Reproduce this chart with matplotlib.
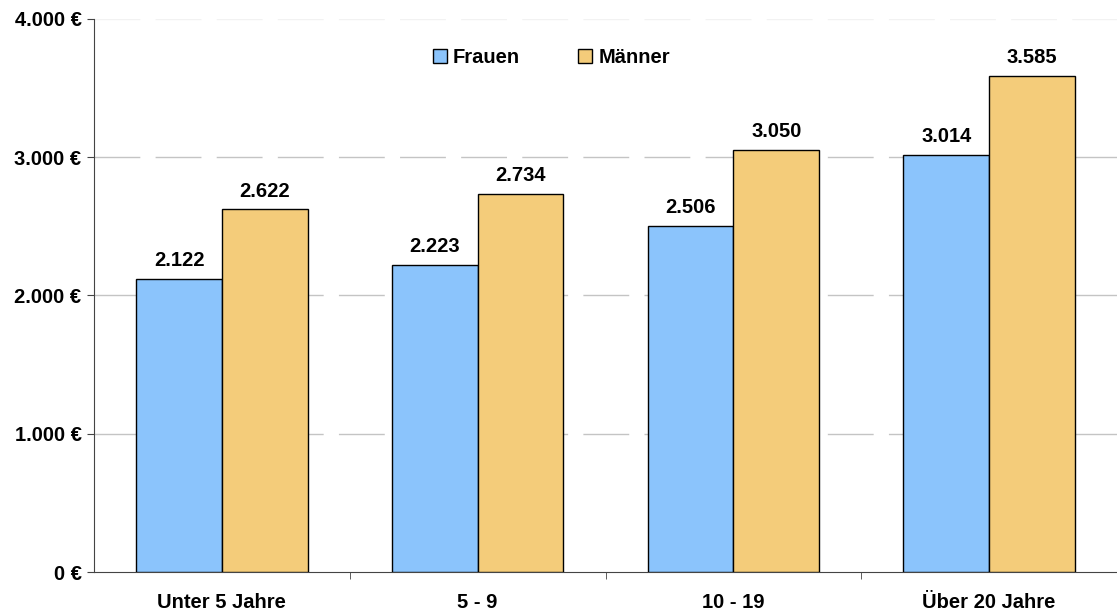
import matplotlib.pyplot as plt
import numpy as np

plt.rcParams['font.family'] = ['Liberation Sans', 'DejaVu Sans']
plt.rcParams['font.weight'] = 'bold'

kategorien = ['Unter 5 Jahre', '5 - 9', '10 - 19', 'Über 20 Jahre']
frauen = [2122, 2223, 2506, 3014]
maenner = [2622, 2734, 3050, 3585]
yticks = [0, 1000, 2000, 3000, 4000]

def fmt(v):
    return f'{v:,}'.replace(',', '.')

fs = 14.5
fig = plt.figure(figsize=(11.17, 6.14), dpi=100)
ax = fig.add_axes([0.0842, 0.0684, 0.9158, 0.9007])

x = np.arange(len(kategorien))
w = 0.335
b1 = ax.bar(x - w/2, frauen, w, color='#8bc4fc', edgecolor='black', linewidth=1, label='Frauen', zorder=3)
b2 = ax.bar(x + w/2, maenner, w, color='#f4cc7a', edgecolor='black', linewidth=1, label='Männer', zorder=3)

for bars, vals in [(b1, frauen), (b2, maenner)]:
    for r, v in zip(bars, vals):
        ax.text(r.get_x() + r.get_width()/2, v + 65, fmt(v), ha='center', va='bottom',
                fontsize=fs, fontweight='bold')

ax.set_xlim(-0.5, 3.5)
ax.set_ylim(0, 4000)
ax.set_yticks(yticks)
ax.set_yticklabels([fmt(v) + ' €' for v in yticks], fontsize=fs, fontweight='bold')
for yv in yticks[1:]:
    col = '#f2f2f2' if yv == 4000 else '#c4c4c4'
    ax.axhline(yv, color=col, linestyle=(0, (33, 11)), linewidth=1, zorder=0)

ax.set_xticks(x)
ax.set_xticklabels(kategorien, fontsize=fs, fontweight='bold')
ax.tick_params(axis='x', length=0, pad=15)
ax.set_xticks([0.5, 1.5, 2.5], minor=True)
ax.tick_params(axis='x', which='minor', length=5, color='#444444')
ax.tick_params(axis='y', length=5, color='#444444', pad=4)

for s in ['top', 'right']:
    ax.spines[s].set_visible(False)
ax.spines['left'].set_color('#444444')
ax.spines['bottom'].set_color('#444444')

leg = ax.legend(loc='upper center', bbox_to_anchor=(0.447, 0.98), ncol=2, frameon=False,
                fontsize=fs, handlelength=0.7, handleheight=0.7, handletextpad=0.3,
                columnspacing=2.9)

fig.savefig('out.png', dpi=100)
